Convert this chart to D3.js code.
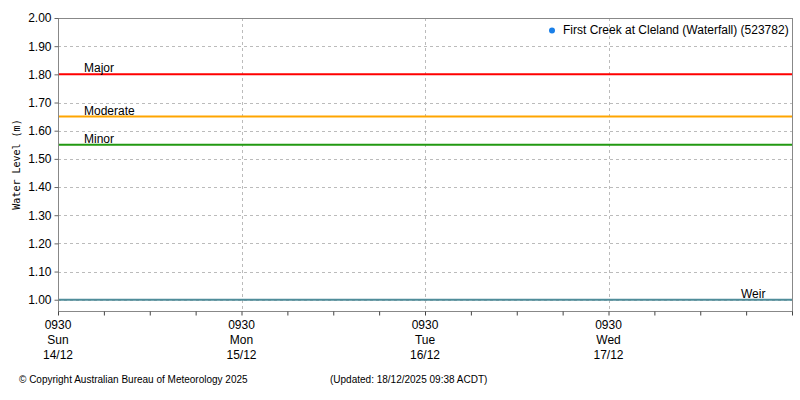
<!DOCTYPE html>
<html>
<head>
<meta charset="utf-8">
<script src="https://cdn.jsdelivr.net/npm/d3@7"></script>
<style>
  body { margin: 0; background: #fff; }
  text { font-family: "Liberation Sans", sans-serif; font-size: 11px; fill: #000; }
</style>
</head>
<body>
<div id="chart"></div>
<script>
const w = 800;
const h = 400;

const seriesName = "First Creek at Cleland (Waterfall) (523782)";
const yTicks = [1.0, 1.1, 1.2, 1.3, 1.4, 1.5, 1.6, 1.7, 1.8, 1.9, 2.0];
const dayTicks = ["2025-12-14T09:30", "2025-12-15T09:30", "2025-12-16T09:30", "2025-12-17T09:30"];
const dayNames = ["Sun", "Mon", "Tue", "Wed"];
const dayDates = ["14/12", "15/12", "16/12", "17/12"];
const levelNames = ["Major", "Moderate", "Minor", "Weir"];
const levelValues = [1.80, 1.65, 1.55, 1.00];
const levelColors = ["#ff0000", "#ffa500", "#229911", "#4f8d9a"];

const margin = { left: 58, right: 7, top: 18, bottom: 89 };

const svg = d3.select("#chart").append("svg").attr("width", w).attr("height", h);

const parse = d3.timeParse("%Y-%m-%dT%H:%M");
const start = parse("2025-12-14T09:30");
const end = parse("2025-12-18T09:30");
const x = d3.scaleTime([start, end], [margin.left, w - margin.right - 1]);
const y = d3.scaleLinear([0.96, 2.0], [h - margin.bottom, margin.top]);

// 6-hourly ticks starting at 09:30
const minorTicks = d3.range(0, 17).map((i) => d3.timeHour.offset(start, i * 6));

// grid
svg.append("g")
  .selectAll("line")
  .data(yTicks.slice(0, -1))
  .join("line")
  .attr("x1", margin.left).attr("x2", w - margin.right)
  .attr("y1", (d) => Math.round(y(d)) + 0.5).attr("y2", (d) => Math.round(y(d)) + 0.5)
  .attr("stroke", "#bbb").attr("stroke-dasharray", "3,3");

svg.append("g")
  .selectAll("line")
  .data(dayTicks.slice(1))
  .join("line")
  .attr("x1", (d) => Math.round(x(parse(d))) + 0.5).attr("x2", (d) => Math.round(x(parse(d))) + 0.5)
  .attr("y1", margin.top).attr("y2", h - margin.bottom)
  .attr("stroke", "#bbb").attr("stroke-dasharray", "3,3");

// level lines
const lv = svg.append("g");
levelValues.forEach((v, i) => {
  lv.append("line")
    .attr("x1", margin.left).attr("x2", w - margin.right)
    .attr("y1", y(v)).attr("y2", y(v))
    .attr("stroke", levelColors[i]).attr("stroke-width", 2);
  lv.append("text")
    .attr("x", levelNames[i] === "Weir" ? 741 : 84)
    .attr("y", y(v) - 2)
    .style("font-size", "12px")
    .text(levelNames[i]);
});

// border
svg.append("rect")
  .attr("x", margin.left + 0.5).attr("y", margin.top + 0.5)
  .attr("width", w - margin.left - margin.right - 1)
  .attr("height", h - margin.top - margin.bottom)
  .attr("fill", "none").attr("stroke", "#888");

// y axis
const gy = svg.append("g")
  .attr("transform", `translate(${margin.left + 0.5},0)`)
  .call(d3.axisLeft(y).tickValues(yTicks).tickFormat(d3.format(".2f")).tickSize(4).tickPadding(3));
gy.select(".domain").remove();
gy.selectAll(".tick line").attr("stroke", "#666");
gy.selectAll(".tick text").style("font-size", "12px");

svg.append("text")
  .attr("transform", `translate(20,${(margin.top + h - margin.bottom) / 2}) rotate(-90)`)
  .attr("text-anchor", "middle")
  .style("font-family", "'DejaVu Sans Mono', monospace")
  .style("font-size", "10px")
  .text("Water Level (m)");

// x axis
const gx = svg.append("g")
  .attr("transform", `translate(0,${h - margin.bottom + 0.5})`)
  .call(d3.axisBottom(x).tickValues(minorTicks).tickFormat("").tickSize(4));
gx.select(".domain").remove();
gx.selectAll(".tick line").attr("stroke", "#444");

const lab = svg.append("g")
  .selectAll("text")
  .data(dayTicks)
  .join("text")
  .attr("text-anchor", "middle")
  .attr("transform", (d) => `translate(${x(parse(d))},${h - margin.bottom + 18})`)
  .style("font-size", "12px");
lab.append("tspan").attr("x", 0).attr("y", 0).text("0930");
lab.append("tspan").attr("x", 0).attr("y", 15).text((d, i) => dayNames[i]);
lab.append("tspan").attr("x", 0).attr("y", 30).text((d, i) => dayDates[i]);

// legend
svg.append("circle").attr("cx", 552).attr("cy", 30.5).attr("r", 3).attr("fill", "#1a7fe8");
svg.append("text").attr("x", 563).attr("y", 34).style("font-size", "12px").text(seriesName);

// footer
svg.append("text").attr("x", 19).attr("y", 383).style("font-size", "10px")
  .text("© Copyright Australian Bureau of Meteorology 2025");
svg.append("text").attr("x", 330).attr("y", 383).style("font-size", "10px")
  .text("(Updated: 18/12/2025 09:38 ACDT)");
</script>
</body>
</html>
